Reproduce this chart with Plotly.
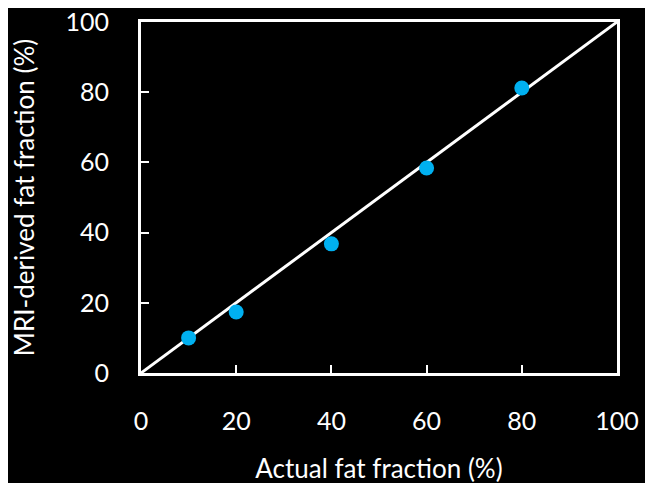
import plotly.graph_objects as go

actual = [10, 20, 40, 60, 80]
mri = [10.0, 17.4, 36.8, 58.4, 81.2]
identity_x = [0, 100]
identity_y = [0, 100]
tick_vals = [0, 20, 40, 60, 80, 100]

fig = go.Figure()
fig.add_trace(go.Scatter(x=identity_x, y=identity_y, mode="lines",
                         line=dict(color="white", width=3), showlegend=False,
                         cliponaxis=False))
fig.add_trace(go.Scatter(x=actual, y=mri, mode="markers",
                         marker=dict(color="#00B0F0", size=15), showlegend=False))

tick_font = dict(family="Lato, Open Sans, sans-serif", size=25, color="white")
title_font = dict(family="Lato, Open Sans, sans-serif", size=26, color="white")
axis_common = dict(range=[0, 100], tickvals=tick_vals, showgrid=False, zeroline=False,
                   showline=True, linecolor="white", linewidth=3, mirror=True,
                   ticks="inside", ticklen=8, tickwidth=2, tickcolor="white",
                   tickfont=tick_font, ticklabeloverflow="allow", automargin=False)
fig.update_layout(
    width=653, height=483,
    paper_bgcolor="black", plot_bgcolor="black",
    margin=dict(l=133, r=44, t=14, b=118),
    font=tick_font,
    xaxis=dict(**axis_common, title=dict(text="Actual fat fraction (%)", font=title_font, standoff=26),
               ticklabelstandoff=24),
    yaxis=dict(**axis_common, title=dict(text="MRI-derived fat fraction (%)", font=title_font, standoff=30),
               ticklabelstandoff=24),
)
fig.write_html("out.html")
